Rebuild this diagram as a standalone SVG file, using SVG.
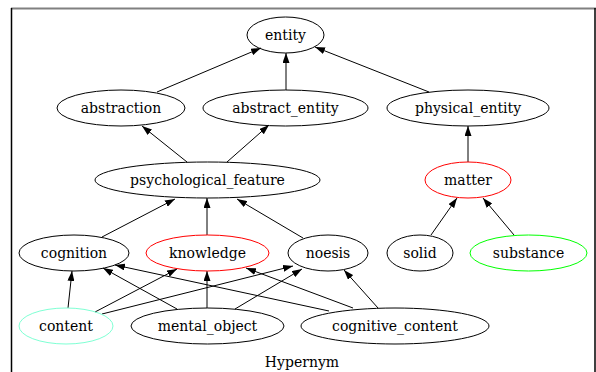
<svg xmlns="http://www.w3.org/2000/svg" width="596" height="372" viewBox="0 0 596 372">
<style>
.n ellipse{fill:none;stroke:#000;stroke-width:1}
.n text,.lbl{font-family:"DejaVu Serif","Liberation Serif",serif;font-size:14px;fill:#000;text-anchor:middle}
.e line{stroke:#000;stroke-width:1;marker-end:url(#arr)}
</style>
<defs>
<marker id="arr" markerWidth="10" markerHeight="7" refX="10" refY="3.5" orient="auto" markerUnits="userSpaceOnUse"><path d="M0,0 L10,3.5 L0,7 z" fill="#000"/></marker>
</defs>
<rect width="596" height="372" fill="#fff"/>
<line x1="11" y1="8.5" x2="596" y2="8.5" stroke="#808080" stroke-width="2"/>
<line x1="11.5" y1="8" x2="11.5" y2="372" stroke="#000" stroke-width="1.5"/>
<line x1="595" y1="8" x2="595" y2="372" stroke="#000" stroke-width="1.5"/>
<g class="e" id="edges">
<line x1="157" y1="92" x2="261" y2="48"/>
<line x1="286" y1="90" x2="286" y2="53"/>
<line x1="429" y1="92" x2="315" y2="47"/>
<line x1="187" y1="162" x2="142" y2="126"/>
<line x1="227" y1="162" x2="269" y2="125"/>
<line x1="468" y1="162" x2="468" y2="126"/>
<line x1="102" y1="237" x2="175" y2="199"/>
<line x1="207" y1="235" x2="207" y2="198"/>
<line x1="303" y1="238" x2="237" y2="199"/>
<line x1="431" y1="235" x2="457" y2="198"/>
<line x1="514" y1="235" x2="483" y2="198"/>
<line x1="68" y1="308" x2="72" y2="271"/>
<line x1="177" y1="309" x2="103" y2="268"/>
<line x1="95" y1="312" x2="177" y2="269"/>
<line x1="207" y1="308" x2="207" y2="271"/>
<line x1="235" y1="309" x2="302" y2="269"/>
<line x1="102" y1="314" x2="293" y2="266"/>
<line x1="329" y1="311" x2="115" y2="265"/>
<line x1="353" y1="308" x2="246" y2="268"/>
<line x1="378" y1="308" x2="344" y2="270"/>
</g>
<g class="n" id="entity"><ellipse cx="285.5" cy="35" rx="38.5" ry="18"/><text x="285.5" y="40">entity</text></g>
<g class="n" id="abstraction"><ellipse cx="121" cy="108" rx="64" ry="18"/><text x="121" y="113">abstraction</text></g>
<g class="n" id="abstract_entity"><ellipse cx="285.5" cy="108" rx="82.5" ry="18"/><text x="285.5" y="113">abstract_entity</text></g>
<g class="n" id="physical_entity"><ellipse cx="468" cy="108" rx="81" ry="18"/><text x="468" y="113">physical_entity</text></g>
<g class="n" id="psychological_feature"><ellipse cx="207.5" cy="180" rx="112.5" ry="18"/><text x="207.5" y="185">psychological_feature</text></g>
<g class="n" id="matter"><ellipse cx="468" cy="180" rx="43" ry="18" style="stroke:#ff0000"/><text x="468" y="185">matter</text></g>
<g class="n" id="cognition"><ellipse cx="74" cy="253" rx="55" ry="18"/><text x="74" y="258">cognition</text></g>
<g class="n" id="knowledge"><ellipse cx="207.5" cy="253" rx="61.5" ry="18" style="stroke:#ff0000"/><text x="207.5" y="258">knowledge</text></g>
<g class="n" id="noesis"><ellipse cx="328" cy="253" rx="40" ry="18"/><text x="328" y="258">noesis</text></g>
<g class="n" id="solid"><ellipse cx="420" cy="253" rx="33" ry="18"/><text x="420" y="258">solid</text></g>
<g class="n" id="substance"><ellipse cx="528.5" cy="253" rx="58.5" ry="18" style="stroke:#00ff00"/><text x="528.5" y="258">substance</text></g>
<g class="n" id="content"><ellipse cx="66" cy="326" rx="47" ry="18" style="stroke:#7fffd4"/><text x="66" y="331">content</text></g>
<g class="n" id="mental_object"><ellipse cx="207.5" cy="326" rx="76.5" ry="18"/><text x="207.5" y="331">mental_object</text></g>
<g class="n" id="cognitive_content"><ellipse cx="395" cy="326" rx="94" ry="18"/><text x="395" y="331">cognitive_content</text></g>
<text class="lbl" x="302" y="367">Hypernym</text>
</svg>
